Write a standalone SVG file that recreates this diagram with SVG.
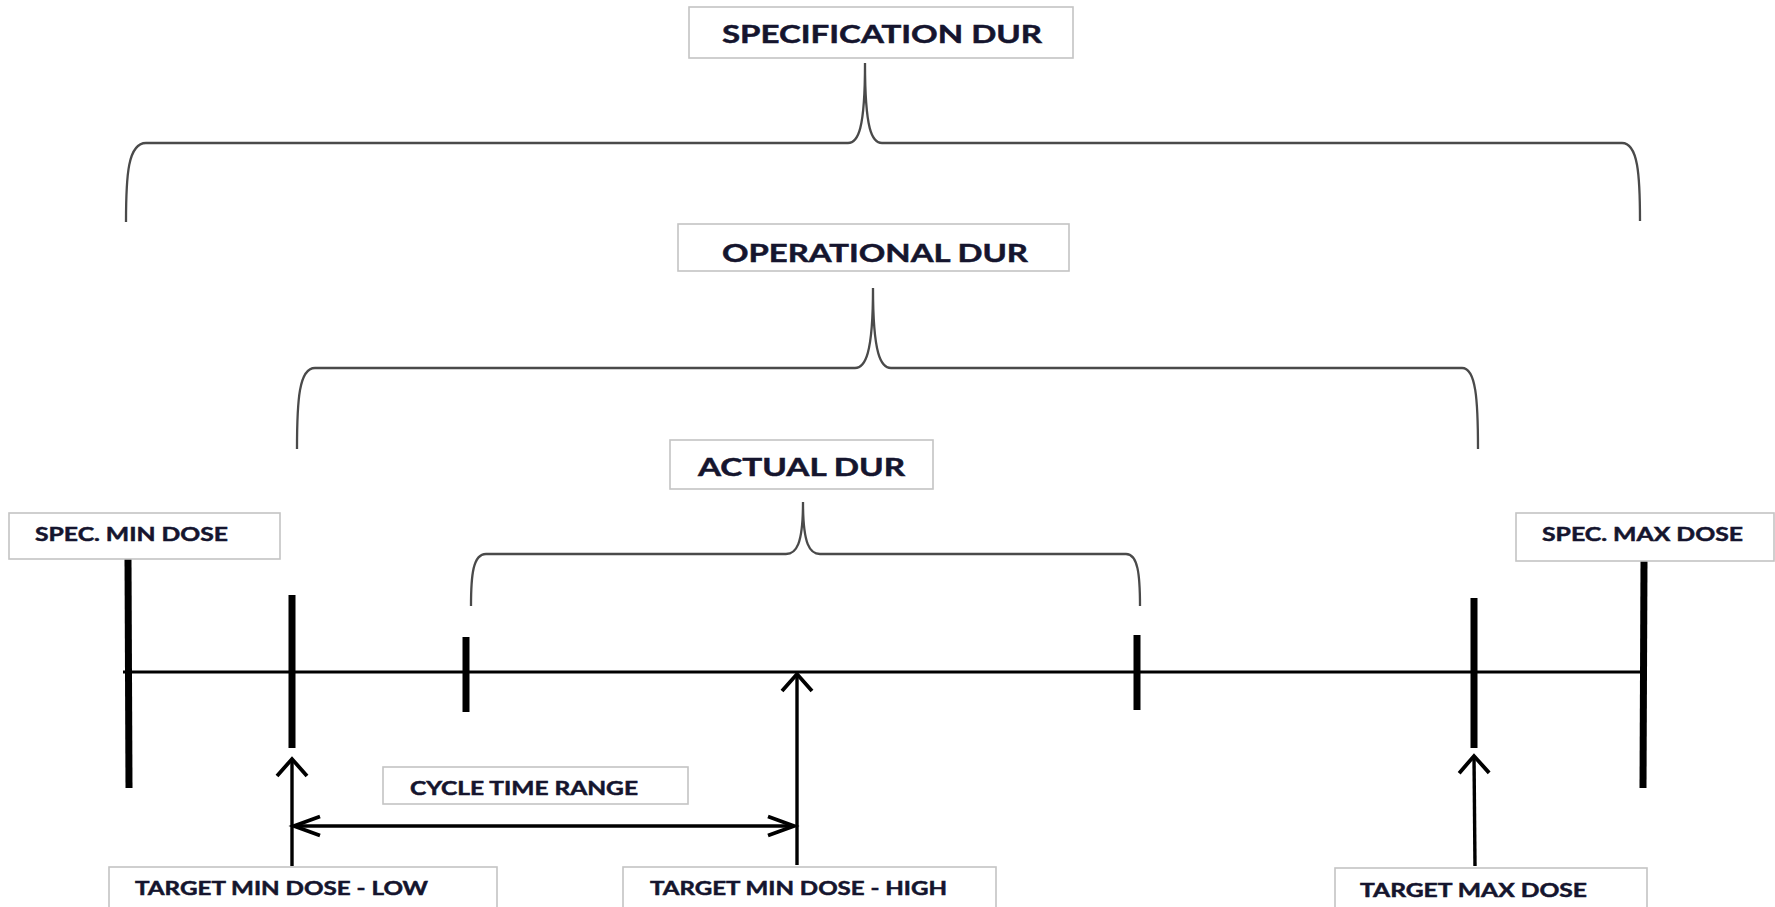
<svg xmlns="http://www.w3.org/2000/svg" width="1775" height="907" viewBox="0 0 1775 907">
<style>
.box{fill:#fff;stroke:#c4c4c4;stroke-width:1.6}
.lbl{font-family:Lato,"Open Sans","Liberation Sans",sans-serif;font-weight:bold;fill:#15152e;stroke:#15152e;stroke-width:0.5}
.big{font-size:25px}
.sm{font-size:19px}
.brace{fill:none;stroke:#4a4a4a;stroke-width:2.3}
.tick{stroke:#000;stroke-width:7;fill:none}
.axis{stroke:#000;stroke-width:3;fill:none}
.arr{stroke:#000;stroke-width:3.4;fill:none}
</style>
<defs>
<marker id="hv" markerUnits="userSpaceOnUse" orient="auto" overflow="visible" refX="0" refY="0" markerWidth="1" markerHeight="1">
<path d="M-17,-15 L0,0 L-17,15" fill="none" stroke="#000" stroke-width="3.8"/>
</marker>
<marker id="hh" markerUnits="userSpaceOnUse" orient="auto" overflow="visible" refX="0" refY="0" markerWidth="1" markerHeight="1">
<path d="M-26,-9.5 L0,0 L-26,9.5" fill="none" stroke="#000" stroke-width="3.8"/>
</marker>
<marker id="hhs" markerUnits="userSpaceOnUse" orient="auto-start-reverse" overflow="visible" refX="0" refY="0" markerWidth="1" markerHeight="1">
<path d="M-26,-9.5 L0,0 L-26,9.5" fill="none" stroke="#000" stroke-width="3.8"/>
</marker>
</defs>
<rect width="1775" height="907" fill="#fff"/>

<g id="connectors">
<path class="brace" d="M126,222 C126,175 128,143 146,143 L848,143 C858,143 865,130 865,63 C865,130 872,143 882,143 L1622,143 C1638,143 1640,175 1640,221"/>
<path class="brace" d="M297,449 C297,400 299,368 315,368 L855,368 C865,368 873,355 873,288 C873,355 881,368 891,368 L1462,368 C1476,368 1478,400 1478,449"/>
<path class="brace" d="M471,606 C471,575 473,554 486,554 L786,554 C796,554 803,545 803,502 C803,545 810,554 820,554 L1126,554 C1138,554 1140,575 1140,606"/>
<line class="axis" x1="123" y1="672" x2="1640" y2="672"/>
<line class="tick" x1="128" y1="559" x2="129" y2="788"/>
<line class="tick" x1="292" y1="595" x2="292" y2="748"/>
<line class="tick" x1="466" y1="637" x2="466" y2="712"/>
<line class="tick" x1="1137" y1="635" x2="1137" y2="710"/>
<line class="tick" x1="1474" y1="598" x2="1474" y2="748"/>
<line class="tick" x1="1644" y1="561" x2="1643" y2="788"/>
<line class="arr" x1="292" y1="866" x2="292" y2="759" marker-end="url(#hv)"/>
<line class="arr" x1="797" y1="865" x2="797" y2="674" marker-end="url(#hv)"/>
<line class="arr" x1="1475" y1="866" x2="1474" y2="756" marker-end="url(#hv)"/>
<line class="arr" x1="294" y1="826" x2="794" y2="826" marker-start="url(#hhs)" marker-end="url(#hh)"/>
</g>

<g id="spec-dur">
<rect class="box" x="689" y="7" width="384" height="51"/>
<text class="lbl big" x="722" y="43" textLength="320" lengthAdjust="spacingAndGlyphs">SPECIFICATION DUR</text>
</g>
<g id="oper-dur">
<rect class="box" x="678" y="224" width="391" height="47"/>
<text class="lbl big" x="722" y="262" textLength="306" lengthAdjust="spacingAndGlyphs">OPERATIONAL DUR</text>
</g>
<g id="actual-dur">
<rect class="box" x="670" y="440" width="263" height="49"/>
<text class="lbl big" x="698" y="476" textLength="207" lengthAdjust="spacingAndGlyphs">ACTUAL DUR</text>
</g>
<g id="spec-min">
<rect class="box" x="9" y="513" width="271" height="46"/>
<text class="lbl sm" x="35" y="541" textLength="193" lengthAdjust="spacingAndGlyphs">SPEC. MIN DOSE</text>
</g>
<g id="spec-max">
<rect class="box" x="1516" y="513" width="258" height="48"/>
<text class="lbl sm" x="1542" y="541" textLength="201" lengthAdjust="spacingAndGlyphs">SPEC. MAX DOSE</text>
</g>
<g id="cycle-time">
<rect class="box" x="383" y="767" width="305" height="37"/>
<text class="lbl sm" x="410" y="795" textLength="228" lengthAdjust="spacingAndGlyphs">CYCLE TIME RANGE</text>
</g>
<g id="target-min-low">
<rect class="box" x="109" y="867" width="388" height="60"/>
<text class="lbl sm" x="135" y="895" textLength="293" lengthAdjust="spacingAndGlyphs">TARGET MIN DOSE - LOW</text>
</g>
<g id="target-min-high">
<rect class="box" x="623" y="867" width="373" height="60"/>
<text class="lbl sm" x="650" y="895" textLength="297" lengthAdjust="spacingAndGlyphs">TARGET MIN DOSE - HIGH</text>
</g>
<g id="target-max">
<rect class="box" x="1335" y="868" width="312" height="60"/>
<text class="lbl sm" x="1360" y="897" textLength="227" lengthAdjust="spacingAndGlyphs">TARGET MAX DOSE</text>
</g>
</svg>
